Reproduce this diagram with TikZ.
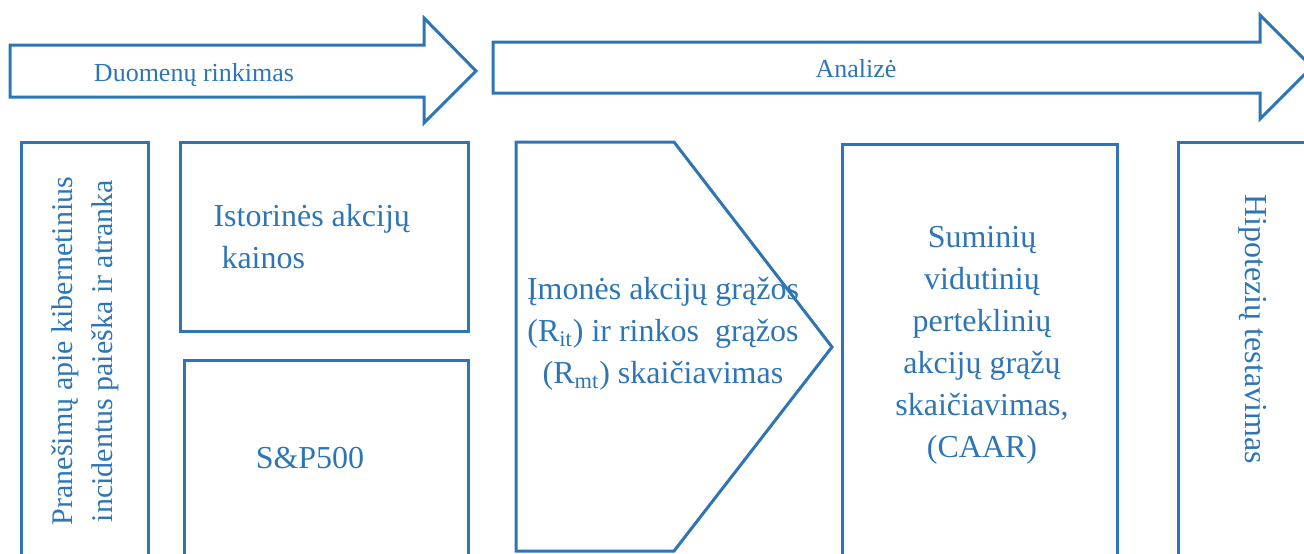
\documentclass[tikz,border=0pt]{standalone}
\usepackage{fontspec}
\setmainfont{Liberation Serif}
\definecolor{sblue}{HTML}{2E75B6}
\begin{document}
\begin{tikzpicture}[x=0.5pt,y=-0.5pt, line width=1.5pt, line join=miter, color=sblue,
  big/.style={font=\fontsize{16}{21}\selectfont, inner sep=0pt, align=center},
  small/.style={font=\fontsize{13}{16}\selectfont, inner sep=0pt}]
\def\w{1304} \def\h{553}
\useasboundingbox (0,0) rectangle (\w,\h);
\clip (0,0) rectangle (\w,\h);
% rodykles
\draw (10,45)--(424,45)--(424,18)--(476,71)--(424,123)--(424,97)--(10,97)--cycle;
\node[small, anchor=base] (duom) at (194,81) {Duomenų rinkimas};
\draw (493,42)--(1260,42)--(1260,15)--(1312,67)--(1260,119)--(1260,93)--(493,93)--cycle;
\node[small, anchor=base] (anal) at (856,77) {Analizė};
% blokai
\draw (21,142) rectangle (148,580);
\node[big, font=\fontsize{15}{20}\selectfont, rotate=90] (pran) at (85,351) {Pranešimų apie kibernetinius\\incidentus paieška ir atranka};
\draw (180,142) rectangle (468,331);
\node[big, align=left, anchor=north west] (ist) at (212,203) {Istorinės akcijų\\\hspace*{4pt}kainos};
\draw (184,360) rectangle (468,580);
\node[big, anchor=base] (sp) at (310,468) {S\&P500};
\draw (516,142)--(674,142)--(832,347)--(674,551)--(516,551)--cycle;
\node[big] (imon) at (663,334) {Įmonės akcijų grąžos\\(R\textsubscript{it}) ir rinkos\ \ grąžos\\(R\textsubscript{mt}) skaičiavimas};
\draw (842,144) rectangle (1117,580);
\node[big] (sum) at (982,345) {Suminių\\vidutinių\\perteklinių\\akcijų grąžų\\skaičiavimas,\\(CAAR)};
\draw (1178,142) rectangle (1340,580);
\node[big, rotate=-90] (hipo) at (1253,329) {Hipotezių testavimas};
\end{tikzpicture}
\end{document}
